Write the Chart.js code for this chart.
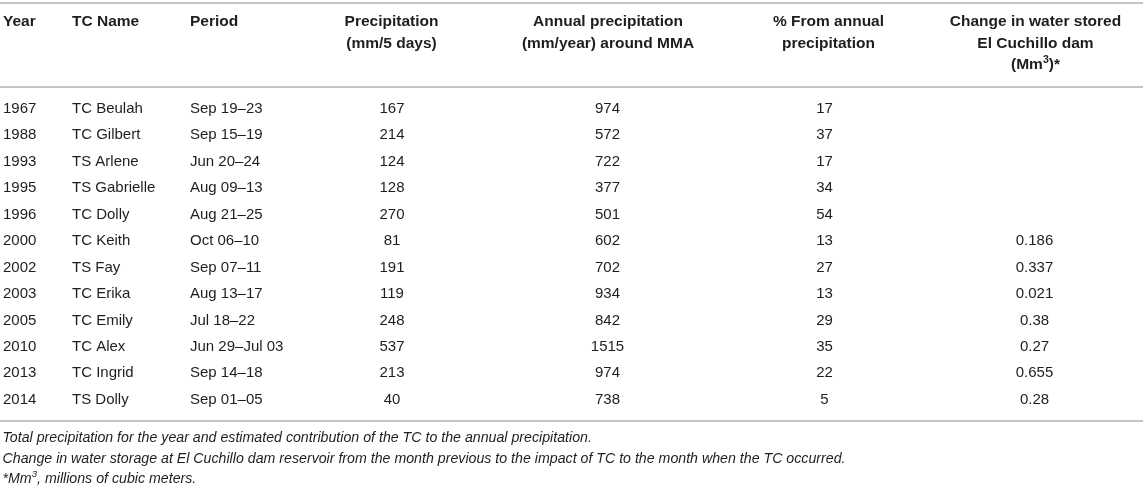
<!DOCTYPE html>
<html><head><meta charset="utf-8">
<script src="https://cdn.jsdelivr.net/npm/chart.js@4.4.0/dist/chart.umd.min.js"></script>
<style>html,body{margin:0;padding:0;background:#fff;overflow:hidden}canvas{display:block}</style>
</head><body>
<canvas id="c" width="1143" height="488"></canvas>
<script>
// ---- data ----
const years = ['1967','1988','1993','1995','1996','2000','2002','2003','2005','2010','2013','2014'];
const tcNames = ['TC Beulah','TC Gilbert','TS Arlene','TS Gabrielle','TC Dolly','TC Keith','TS Fay','TC Erika','TC Emily','TC Alex','TC Ingrid','TS Dolly'];
const periods = ['Sep 19\u201323','Sep 15\u201319','Jun 20\u201324','Aug 09\u201313','Aug 21\u201325','Oct 06\u201310','Sep 07\u201311','Aug 13\u201317','Jul 18\u201322','Jun 29\u2013Jul 03','Sep 14\u201318','Sep 01\u201305'];
const precip5Days = [167,214,124,128,270,81,191,119,248,537,213,40];
const annualPrecip = [974,572,722,377,501,602,702,934,842,1515,974,738];
const pctFromAnnual = [17,37,17,34,54,13,27,13,29,35,22,5];
const storageChange = [null,null,null,null,null,0.186,0.337,0.021,0.38,0.27,0.655,0.28];
const columnHeaders = [
  ['Year'],
  ['TC Name'],
  ['Period'],
  ['Precipitation','(mm/5 days)'],
  ['Annual precipitation','(mm/year) around MMA'],
  ['% From annual','precipitation'],
  ['Change in water stored','El Cuchillo dam','(Mm\u00B3)*']
];
const footnotes = [
  'Total precipitation for the year and estimated contribution of the TC to the annual precipitation.',
  'Change in water storage at El Cuchillo dam reservoir from the month previous to the impact of TC to the month when the TC occurred.',
  '*Mm\u00B3, millions of cubic meters.'
];
const columnValues = [years, tcNames, periods, precip5Days, annualPrecip, pctFromAnnual, storageChange];

// ---- layout ----
const W = 1143, H = 488;
const ROW0 = 108.8, ROWH = 26.45;           // pixel of first row, row pitch
const COLS = [
  {x:3,    hx:3,     align:'left'},
  {x:72,   hx:72,    align:'left'},
  {x:190,  hx:190,   align:'left'},
  {x:392,  hx:391.5, align:'center'},
  {x:607.5,hx:608,   align:'center'},
  {x:824.5,hx:828.5, align:'center'},
  {x:1034.5,hx:1035.5,align:'center'}
];
const HEADER_ROWS = [-3.293, -2.478, -1.66];
const RULES = [-4.0, -0.824, 11.803];
const FOOT_ROWS = [12.465, 13.259, 13.996];
const FAMILY = "'Liberation Sans', Arial, sans-serif";
const TEXT = '#1e1e1e';
const RULE = '#b3b3b3';

const datasets = columnValues.map((vals, c) => ({
  label: 'col' + c,
  data: vals.map((v, i) => v == null ? null : {x: COLS[c].x, y: i, text: String(v)}).filter(d => d),
  pointRadius: 0, pointHoverRadius: 0, showLine: false
}));

// draws text, rendering '³' as a raised smaller '3'
function richText(ctx, str, x, y, align, style, size) {
  const parts = str.split('\u00B3');
  const main = style + ' ' + size + 'px ' + FAMILY;
  const sup = style + ' ' + (size * 0.68).toFixed(2) + 'px ' + FAMILY;
  const segs = [];
  parts.forEach((p, i) => {
    if (p) segs.push({t: p, f: main, dy: 0});
    if (i < parts.length - 1) segs.push({t: '3', f: sup, dy: -size * 0.33});
  });
  let total = 0;
  segs.forEach(s => { ctx.font = s.f; s.w = ctx.measureText(s.t).width; total += s.w; });
  let cx = align === 'center' ? x - total / 2 : (align === 'right' ? x - total : x);
  ctx.textAlign = 'left';
  segs.forEach(s => { ctx.font = s.f; ctx.fillText(s.t, cx, y + s.dy); cx += s.w; });
}

const tablePlugin = {
  id: 'tableText',
  afterDraw(chart) {
    const ctx = chart.ctx, xs = chart.scales.x, ys = chart.scales.y;
    ctx.save();
    // rules
    ctx.strokeStyle = RULE; ctx.lineWidth = 1.6;
    RULES.forEach(r => {
      const y = ys.getPixelForValue(r);
      ctx.beginPath(); ctx.moveTo(xs.getPixelForValue(0), y); ctx.lineTo(xs.getPixelForValue(W), y); ctx.stroke();
    });
    ctx.fillStyle = TEXT;
    ctx.textBaseline = 'middle';
    // headers
    columnHeaders.forEach((lines, c) => {
      lines.forEach((t, k) => richText(ctx, t, xs.getPixelForValue(COLS[c].hx), ys.getPixelForValue(HEADER_ROWS[k]), COLS[c].align, 'bold', 15.5));
    });
    // cells
    ctx.font = '15px ' + FAMILY;
    chart.data.datasets.forEach((ds, c) => {
      const meta = chart.getDatasetMeta(c);
      ctx.textAlign = COLS[c].align;
      ctx.font = '15px ' + FAMILY;
      meta.data.forEach((el, i) => ctx.fillText(ds.data[i].text, el.x, el.y));
    });
    // footnotes
    footnotes.forEach((t, k) => richText(ctx, t, xs.getPixelForValue(2.5), ys.getPixelForValue(FOOT_ROWS[k]), 'left', 'italic', 14.2));
    ctx.restore();
  }
};

new Chart(document.getElementById('c'), {
  type: 'scatter',
  data: { datasets },
  options: {
    responsive: false, animation: false, events: [],
    devicePixelRatio: window.devicePixelRatio || 1,
    layout: { padding: 0 },
    plugins: { legend: { display: false }, tooltip: { enabled: false } },
    scales: {
      x: { type: 'linear', min: 0, max: W, display: false },
      y: { type: 'linear', reverse: true, min: -ROW0 / ROWH, max: (H - ROW0) / ROWH, display: false }
    }
  },
  plugins: [tablePlugin]
});
</script>
</body></html>
